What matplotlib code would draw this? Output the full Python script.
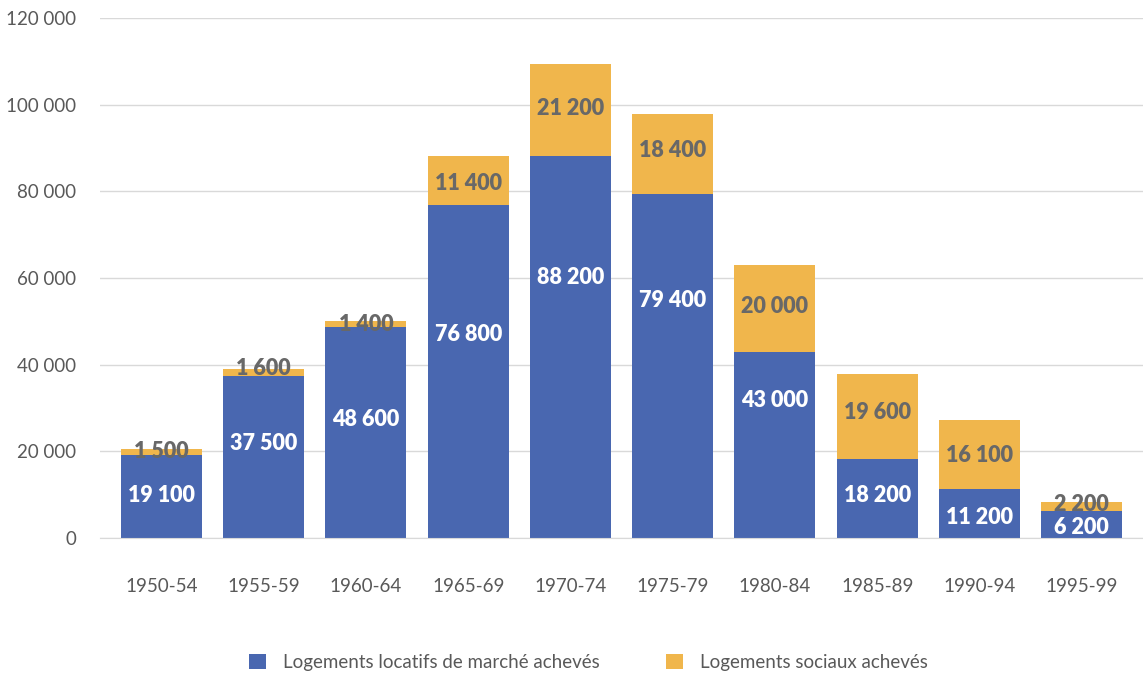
import matplotlib
matplotlib.use("Agg")
import matplotlib.pyplot as plt
from matplotlib.ticker import FuncFormatter

# Données (lecture du graphique)
periodes = ["1950-54", "1955-59", "1960-64", "1965-69", "1970-74",
            "1975-79", "1980-84", "1985-89", "1990-94", "1995-99"]
marche = [19100, 37500, 48600, 76800, 88200, 79400, 43000, 18200, 11200, 6200]
sociaux = [1500, 1600, 1400, 11400, 21200, 18400, 20000, 19600, 16100, 2200]

# Hauteur des étiquettes (unités de l'axe), telles que placées dans l'original
y_etiq_marche = [10200, 22200, 27900, 47500, 60700, 55400, 32100, 10200, 5300, 2800]
y_etiq_sociaux = [20500, 39700, 49800, 82400, 99500, 90000, 54000, 29500, 19400, 8300]

BLEU = "#4967B0"
ORANGE = "#F0B64C"
GRIS = "#595959"

plt.rcParams["font.family"] = ["Lato", "DejaVu Sans"]


def fmt_milliers(v):
    return f"{int(round(v)):,}".replace(",", " ")


fig = plt.figure(figsize=(11.43, 6.74), dpi=100)
ax = fig.add_axes([0.0875, 0.2018, 0.9125, 0.7712])

x = range(len(periodes))
b1 = ax.bar(x, marche, width=0.79, color=BLEU, label="Logements locatifs de marché achevés", zorder=2)
b2 = ax.bar(x, sociaux, width=0.79, bottom=marche, color=ORANGE,
            label="Logements sociaux achevés", zorder=2)

for i in x:
    ax.text(i, y_etiq_marche[i], fmt_milliers(marche[i]), ha="center", va="center_baseline",
            color="white", fontsize=15.5, fontweight="heavy", zorder=3)
    ax.text(i, y_etiq_sociaux[i], fmt_milliers(sociaux[i]), ha="center",
            va="center_baseline", color="#686868", fontsize=15.5, fontweight="heavy", zorder=3)

ax.set_xlim(-0.6, 9.6)
ax.set_ylim(0, 120000)
ax.set_yticks(range(0, 120001, 20000))
ax.yaxis.set_major_formatter(FuncFormatter(lambda v, p: fmt_milliers(v)))
ax.set_xticks(list(x))
ax.set_xticklabels(periodes)

ax.grid(axis="y", color="#D9D9D9", linewidth=1, zorder=0)
for s in ["top", "right", "left"]:
    ax.spines[s].set_visible(False)
ax.spines["bottom"].set_color("#D9D9D9")
ax.tick_params(axis="both", length=0, colors=GRIS, labelsize=13.5)
ax.tick_params(axis="x", pad=29)
ax.tick_params(axis="y", pad=17)

fig.legend(handles=[b1, b2], loc="center", bbox_to_anchor=(0.515, 0.017), ncol=2,
           frameon=False, fontsize=13.5, labelcolor=GRIS, handlelength=0.9,
           handleheight=0.9, handletextpad=0.9, columnspacing=3.55)

fig.savefig("out.png", dpi=100)
